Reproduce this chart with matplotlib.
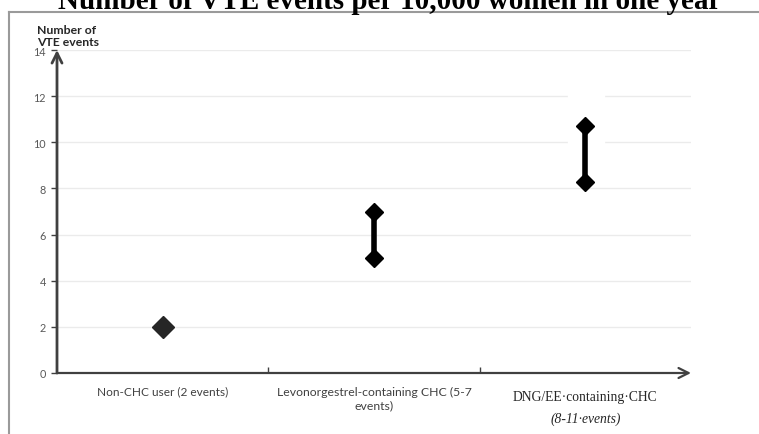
import matplotlib.pyplot as plt
from matplotlib.lines import Line2D
from matplotlib.patches import Rectangle

# categories and VTE ranges (events per 10,000 women per year)
categories = ["Non-CHC user (2 events)",
              "Levonorgestrel-containing CHC (5-7\nevents)",
              "DNG/EE·containing·CHC"]
low = [2.0, 5.0, 8.3]
high = [2.0, 7.0, 10.7]
y_ticks = [0, 2, 4, 6, 8, 10, 12, 14]

AX = "#404040"
TXT = "#595959"

fig = plt.figure(figsize=(7.59, 4.35), dpi=100)
ax = fig.add_axes([57 / 759, 61 / 435, 634 / 759, 323 / 435])

xs = [0.5, 1.5, 2.5]
for x, lo, hi in zip(xs, low, high):
    if lo == hi:
        ax.plot([x], [lo], marker="D", ms=11, color="#262626", zorder=4)
    else:
        ax.plot([x, x], [lo, hi], color="black", lw=4, solid_capstyle="butt",
                marker="D", ms=9, zorder=4)

# white box hiding part of the gridlines (as in the original)
ax.add_patch(Rectangle((2.42, 9.1), 0.17, 3.5, color="white", zorder=2))

ax.set_xlim(0, 3)
ax.set_ylim(0, 14)
ax.set_yticks(y_ticks)
ax.set_yticklabels([str(v) for v in y_ticks], fontsize=7.8, color=TXT,
                   family="Lato")
ax.set_xticks([1, 2])
ax.set_xticklabels([])
ax.tick_params(axis="y", length=4, width=1, color=AX, pad=4)
ax.tick_params(axis="x", length=4, width=1, color=AX, direction="in")
ax.grid(axis="y", color="#ebebeb", lw=1, zorder=0)
for s in ax.spines.values():
    s.set_visible(False)

# axis arrows
ax.annotate("", xy=(0, 14), xytext=(0, 0), xycoords="data",
            arrowprops=dict(arrowstyle="->", color=AX, lw=2,
                            mutation_scale=18, shrinkA=0, shrinkB=0),
            annotation_clip=False)
ax.annotate("", xy=(3.0, 0), xytext=(0, 0), xycoords="data",
            arrowprops=dict(arrowstyle="->", color=AX, lw=1.6,
                            mutation_scale=18, shrinkA=0, shrinkB=0),
            annotation_clip=False)

# category labels
ax.text(xs[0], -0.55, categories[0], ha="center", va="top", fontsize=8.6,
        color="#404040", family="Lato")
ax.text(xs[1], -0.55, categories[1], ha="center", va="top", fontsize=8.8,
        color="#404040", family="Lato", linespacing=1.25)
ax.text(xs[2], -0.75, categories[2], ha="center", va="top", fontsize=9.8,
        color="#262626", family="Liberation Serif")
ax.text(xs[2], -1.65, "(8-11·events)", ha="center", va="top", fontsize=9.8,
        color="#262626", family="Liberation Serif", style="italic")

# y-axis title
fig.text(37 / 759, 1 - 25 / 435, "Number of\nVTE events", ha="left", va="top",
         fontsize=8.8, color="#262626", family="Lato", fontweight="bold",
         linespacing=1.15)

# frame lines of the pasted figure
fig.add_artist(Line2D([9 / 759, 1], [1 - 12.5 / 435, 1 - 12.5 / 435],
                      color="#9a9a9a", lw=1.5))
fig.add_artist(Line2D([9 / 759, 9 / 759], [0, 1 - 12.5 / 435],
                      color="#9a9a9a", lw=1.5))

# title sits partly above the top edge, as in the reference crop
fig.text(390 / 759, 1 - 9 / 435, "Number of VTE events per 10,000 women in one year",
         ha="center", va="baseline", fontsize=21, fontweight="bold",
         family="Liberation Serif", color="black")

fig.savefig("out.png", dpi=100)
